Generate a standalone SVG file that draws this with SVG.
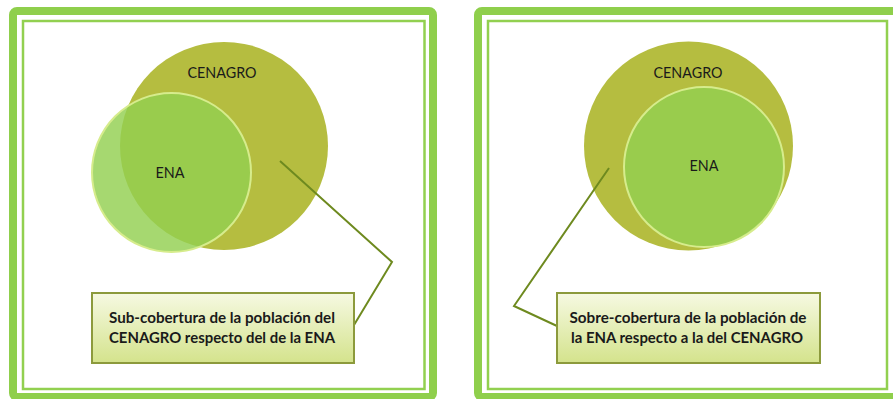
<svg xmlns="http://www.w3.org/2000/svg" width="893" height="399" viewBox="0 0 893 399">
<defs>
<linearGradient id="boxg" x1="0" y1="0" x2="0" y2="1">
<stop offset="0" stop-color="#f6f9e2"/>
<stop offset="1" stop-color="#d4e38c"/>
</linearGradient>
<style>
.frame{fill:none;stroke:#8fcf4c;stroke-width:8}
.inner{fill:none;stroke:#92d050;stroke-width:2.5}
.cen{fill:#b5bd40}
.ena{fill:#92d050;fill-opacity:0.82;stroke:#d6ec8c;stroke-width:2}
.lbl{font-family:Lato,"Liberation Sans",sans-serif;font-size:15px;fill:#1a1a1a;text-anchor:middle}
.box{fill:url(#boxg);stroke:#8c9a3c;stroke-width:2}
.bt{font-family:Lato,"Liberation Sans",sans-serif;font-size:15px;font-weight:bold;fill:#1a1a1a;text-anchor:middle}
.con{fill:none;stroke:#6e8a1f;stroke-width:2}
</style>
</defs>
<rect width="893" height="399" fill="#ffffff"/>
<g id="frame-left">
<rect class="frame" x="13" y="11" width="420" height="386" rx="4"/>
<rect class="inner" x="23" y="21" width="401.5" height="368"/>
</g>
<g id="frame-right">
<rect class="frame" x="478" y="11" width="420" height="386" rx="4"/>
<rect class="inner" x="488" y="21" width="399" height="368"/>
</g>
<g id="cenagro-left">
<circle class="cen" cx="224" cy="146" r="104"/>
<text class="lbl" x="222" y="77.5" textLength="69" lengthAdjust="spacingAndGlyphs">CENAGRO</text>
</g>
<g id="ena-left">
<circle class="ena" cx="171.5" cy="172.5" r="79.5"/>
<text class="lbl" x="170" y="177.5" textLength="29" lengthAdjust="spacingAndGlyphs">ENA</text>
</g>
<g id="cenagro-right">
<circle class="cen" cx="688.5" cy="146" r="104.5"/>
<text class="lbl" x="688" y="77.5" textLength="69" lengthAdjust="spacingAndGlyphs">CENAGRO</text>
</g>
<g id="ena-right">
<circle class="ena" cx="704" cy="167" r="80"/>
<text class="lbl" x="704" y="170.5" textLength="29" lengthAdjust="spacingAndGlyphs">ENA</text>
</g>
<g id="connectors">
<polyline class="con" points="280,161 392,262 354,325"/>
<polyline class="con" points="609,168 514,306 557,326"/>
</g>
<g id="box-left">
<rect class="box" x="92" y="293" width="262" height="70"/>
<text class="bt" x="222" y="322.5" textLength="226" lengthAdjust="spacingAndGlyphs">Sub-cobertura de la población del</text>
<text class="bt" x="222" y="342.5" textLength="226" lengthAdjust="spacingAndGlyphs">CENAGRO respecto del de la ENA</text>
</g>
<g id="box-right">
<rect class="box" x="557" y="293" width="263" height="70"/>
<text class="bt" x="688" y="322.5" textLength="237" lengthAdjust="spacingAndGlyphs">Sobre-cobertura de la población de</text>
<text class="bt" x="687" y="342.5" textLength="232" lengthAdjust="spacingAndGlyphs">la ENA respecto a la del CENAGRO</text>
</g>
</svg>
